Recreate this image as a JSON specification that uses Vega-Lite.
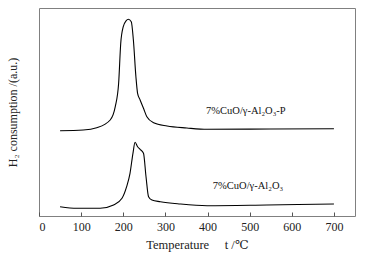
{
  "$schema": "https://vega.github.io/schema/vega-lite/v6.json",
  "width": 316,
  "height": 208,
  "autosize": "none",
  "padding": {"left": 39, "top": 8, "right": 13, "bottom": 38},
  "background": "white",
  "config": {
    "view": {"stroke": "#808080", "strokeWidth": 1},
    "font": "Liberation Serif, DejaVu Serif, serif",
    "axis": {"labelFont": "Liberation Serif, DejaVu Serif, serif", "titleFont": "Liberation Serif, DejaVu Serif, serif", "grid": false}
  },
  "datasets": {
    "curves": [
      {"s": "P", "t": 50, "v": 85.3}, {"s": "P", "t": 105, "v": 86}, {"s": "P", "t": 137, "v": 88.3},
      {"s": "P", "t": 169, "v": 96}, {"s": "P", "t": 181, "v": 109.3}, {"s": "P", "t": 189, "v": 132.7},
      {"s": "P", "t": 194, "v": 172.7}, {"s": "P", "t": 200, "v": 189.3}, {"s": "P", "t": 207, "v": 195.3},
      {"s": "P", "t": 212, "v": 196.7}, {"s": "P", "t": 219, "v": 194.3}, {"s": "P", "t": 224, "v": 176},
      {"s": "P", "t": 230, "v": 139.3}, {"s": "P", "t": 234, "v": 122.7}, {"s": "P", "t": 240, "v": 116},
      {"s": "P", "t": 248, "v": 107.7}, {"s": "P", "t": 256, "v": 99.3}, {"s": "P", "t": 272, "v": 93.3},
      {"s": "P", "t": 304, "v": 90}, {"s": "P", "t": 351, "v": 88}, {"s": "P", "t": 399, "v": 86.7},
      {"s": "P", "t": 550, "v": 87}, {"s": "P", "t": 700, "v": 87.3},
      {"s": "A", "t": 50, "v": 9.3}, {"s": "A", "t": 90, "v": 7.7}, {"s": "A", "t": 145, "v": 7.7},
      {"s": "A", "t": 177, "v": 11}, {"s": "A", "t": 197, "v": 17.7}, {"s": "A", "t": 208, "v": 29.3},
      {"s": "A", "t": 216, "v": 42.7}, {"s": "A", "t": 223, "v": 62.7}, {"s": "A", "t": 228, "v": 73.7},
      {"s": "A", "t": 234, "v": 69.3}, {"s": "A", "t": 240, "v": 66.7}, {"s": "A", "t": 248, "v": 62.7},
      {"s": "A", "t": 254, "v": 39.3}, {"s": "A", "t": 260, "v": 19.3}, {"s": "A", "t": 268, "v": 16},
      {"s": "A", "t": 288, "v": 14.3}, {"s": "A", "t": 335, "v": 12}, {"s": "A", "t": 399, "v": 10.3},
      {"s": "A", "t": 541, "v": 11}, {"s": "A", "t": 700, "v": 12}
    ],
    "labels": [
      {"t": 491, "v": 105, "label": "7%CuO/γ-Al₂O₃-P"},
      {"t": 496, "v": 30, "label": "7%CuO/γ-Al₂O₃"}
    ]
  },
  "layer": [
    {
      "data": {"name": "curves"},
      "mark": {"type": "line", "color": "black", "strokeWidth": 1.1, "interpolate": "monotone"},
      "encoding": {
        "x": {
          "field": "t", "type": "quantitative",
          "scale": {"domain": [0, 750], "nice": false},
          "axis": {
            "values": [0, 50, 100, 150, 200, 250, 300, 350, 400, 450, 500, 550, 600, 650, 700],
            "labelExpr": "datum.value % 100 == 0 ? datum.label : ''",
            "domain": false, "tickSize": -4, "tickColor": "#555", "labelPadding": 9,
            "labelFontSize": 12, "labelColor": "#222",
            "title": "Temperature\u00a0\u00a0\u00a0\u00a0\u00a0t\u00a0/℃", "titleFontSize": 12.5, "titleFontWeight": "normal",
            "titleColor": "#222", "titlePadding": 6
          }
        },
        "y": {
          "field": "v", "type": "quantitative",
          "scale": {"domain": [0, 208], "nice": false},
          "axis": {
            "domain": false, "ticks": false, "labels": false,
            "title": "H₂ consumption /(a.u.)", "titleFontSize": 12, "titleFontWeight": "normal",
            "titleColor": "#222", "titlePadding": 20
          }
        },
        "detail": {"field": "s"}
      }
    },
    {
      "data": {"name": "labels"},
      "mark": {"type": "text", "font": "Liberation Serif, DejaVu Serif, serif", "fontSize": 10.5, "color": "#111"},
      "encoding": {
        "x": {"field": "t", "type": "quantitative"},
        "y": {"field": "v", "type": "quantitative"},
        "text": {"field": "label"}
      }
    }
  ]
}
